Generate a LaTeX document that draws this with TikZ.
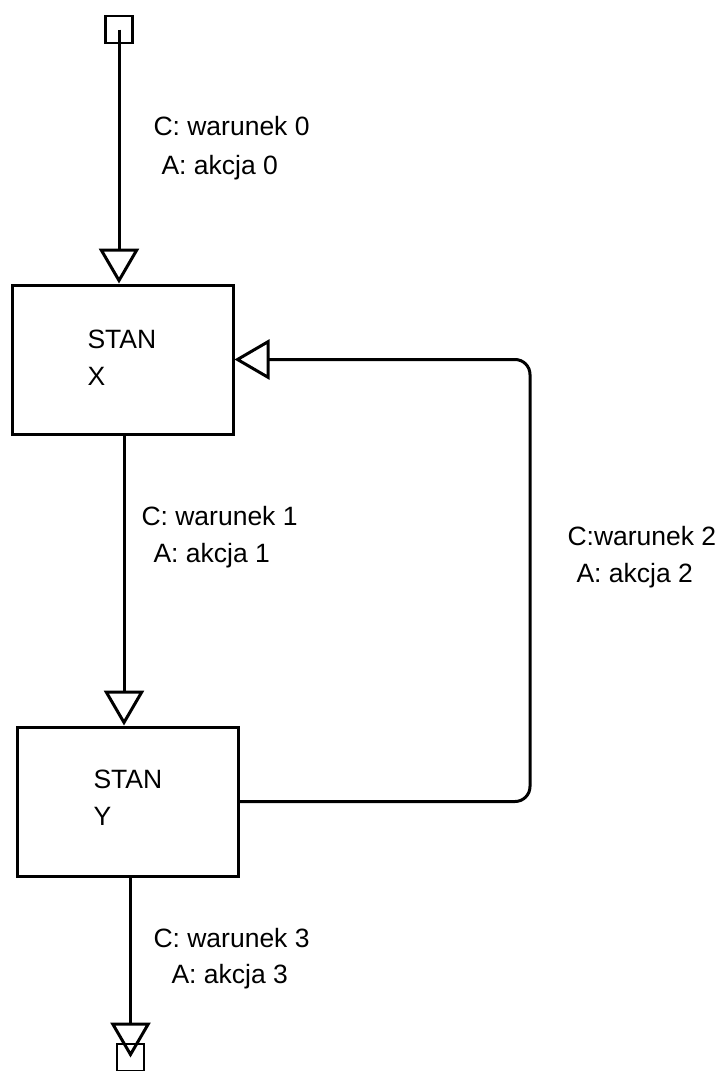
\documentclass[tikz,border=0pt]{standalone}
\usepackage{fontspec}
\setmainfont{Liberation Sans}
\usetikzlibrary{arrows.meta}
\begin{document}
\begin{tikzpicture}[x=1pt,y=-1pt,line width=3pt,
  statebox/.style={draw,rectangle,minimum width=221pt,minimum height=149pt,inner sep=0pt},
  term/.style={draw,rectangle,minimum width=27pt,minimum height=27pt,inner sep=0pt,line width=2.6pt},
  lbl/.style={anchor=base west,inner sep=0pt,font=\fontsize{26.5}{30}\selectfont},
  conn/.style={-{Triangle[open,length=35pt,width=40pt]}}]
\useasboundingbox (0,0) rectangle (718,1071);
\node[term] (start) at (119,29.5) {};
\node[statebox] (X) at (122.5,359.5) {};
\node[statebox] (Y) at (127.5,801.5) {};
\node[term] (end) at (130.5,1057.5) {};
\node[lbl] (sx1) at (86,348) {STAN};
\node[lbl] (sx2) at (86,385) {X};
\node[lbl] (sy1) at (92,788) {STAN};
\node[lbl] (sy2) at (92,825) {Y};
\draw[conn] (start.center) -- (start.center |- X.north);
\draw[conn] (X.south -| 124,0) -- (124,0 |- Y.north);
\draw[conn,rounded corners=15pt] (Y.east) -- (530,0 |- Y.east) -- (530,0 |- X.east) -- (X.east);
\draw[conn] (Y.south -| end.center) -- (end.center);
\node[lbl] (c0) at (152,135) {C: warunek 0};
\node[lbl] (a0) at (160,174) {A: akcja 0};
\node[lbl] (c1) at (140,525) {C: warunek 1};
\node[lbl] (a1) at (152,562) {A: akcja 1};
\node[lbl] (c2) at (566,545) {C:warunek 2};
\node[lbl] (a2) at (575,582) {A: akcja 2};
\node[lbl] (c3) at (152,947) {C: warunek 3};
\node[lbl] (a3) at (170,983) {A: akcja 3};
\end{tikzpicture}
\end{document}
